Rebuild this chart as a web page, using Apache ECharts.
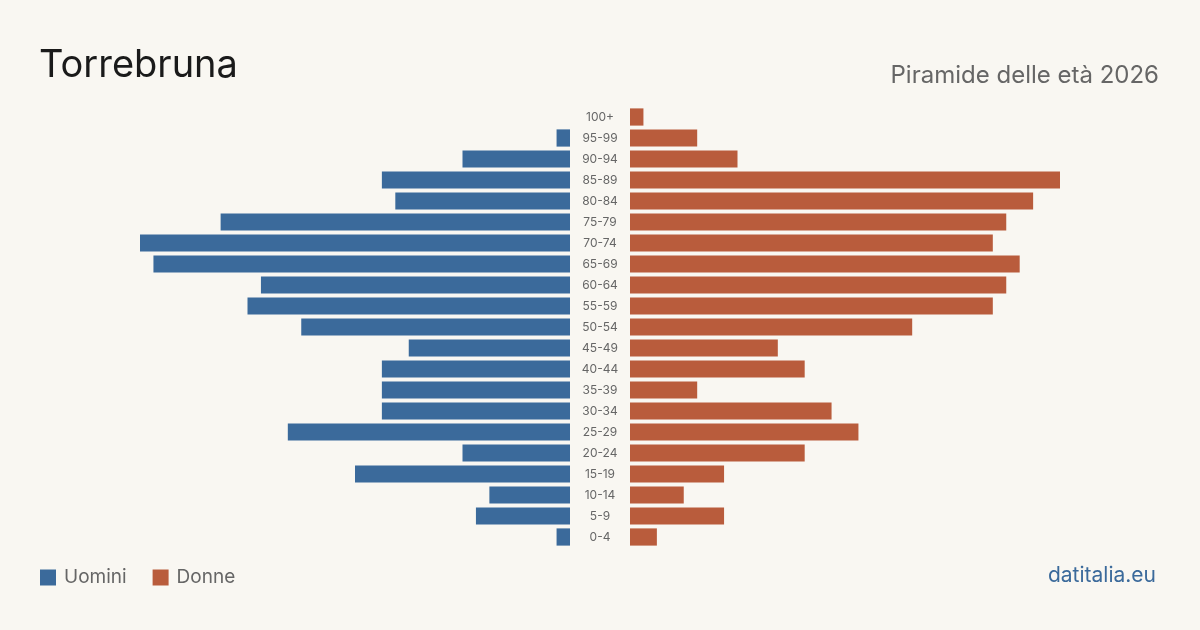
<!DOCTYPE html>
<html>
<head>
<meta charset="utf-8">
<script src="https://cdn.jsdelivr.net/npm/echarts@6/dist/echarts.min.js"></script>
<style>
  html, body { margin: 0; padding: 0; background: #f9f7f2; }
  #main { width: 1200px; height: 630px; }
</style>
</head>
<body>
<div id="main"></div>
<script>
const ageGroups = ['0-4', '5-9', '10-14', '15-19', '20-24', '25-29', '30-34', '35-39', '40-44', '45-49',
  '50-54', '55-59', '60-64', '65-69', '70-74', '75-79', '80-84', '85-89', '90-94', '95-99', '100+']
const men = [1, 7, 6, 16, 8, 21, 14, 14, 14, 12, 20, 24, 23, 31, 32, 26, 13, 14, 8, 1, 0]
const women = [2, 7, 4, 7, 13, 17, 15, 5, 13, 11, 21, 27, 28, 29, 27, 28, 30, 32, 8, 5, 1]

const BLUE = '#3b6a9b'
const ORANGE = '#b95c3c'
const FONT = 'Inter, "Noto Sans", sans-serif'

const chart = echarts.init(document.getElementById('main'))

chart.setOption({
  backgroundColor: '#f9f7f2',
  animation: false,
  textStyle: { fontFamily: FONT },
  title: [
    {
      text: 'Torrebruna',
      left: 39,
      top: 47,
      padding: 0,
      textStyle: { fontSize: 38, fontWeight: 'normal', color: '#1a1a1a', fontFamily: FONT },
    },
    {
      text: 'Piramide delle età 2026',
      right: 41,
      top: 64,
      padding: 0,
      textStyle: { fontSize: 24, fontWeight: 'normal', color: '#666', fontFamily: FONT },
    },
    {
      text: 'datitalia.eu',
      right: 44,
      top: 565,
      padding: 0,
      textStyle: { fontSize: 21, fontWeight: 'normal', color: '#3b6a9b', fontFamily: FONT },
    },
  ],
  legend: {
    left: 40,
    top: 568,
    padding: 0,
    icon: 'rect',
    itemWidth: 16,
    itemHeight: 16,
    itemGap: 26,
    textStyle: { fontSize: 19, color: '#666', fontFamily: FONT, padding: [0, 0, 0, 3] },
    data: ['Uomini', 'Donne'],
  },
  grid: [
    { left: 140, width: 430, top: 106.5, height: 441 },
    { left: 630, width: 430, top: 106.5, height: 441 },
  ],
  xAxis: [
    { gridIndex: 0, type: 'value', min: 0, max: 32, inverse: true, show: false },
    { gridIndex: 1, type: 'value', min: 0, max: 32, show: false },
  ],
  yAxis: [
    {
      gridIndex: 0, type: 'category', data: ageGroups,
      axisLine: { show: false }, axisTick: { show: false }, axisLabel: { show: false },
    },
    {
      gridIndex: 1, type: 'category', data: ageGroups,
      axisLine: { show: false }, axisTick: { show: false },
      axisLabel: { show: true, margin: 30, align: 'center', fontSize: 12, color: '#666', fontFamily: FONT },
    },
  ],
  series: [
    {
      name: 'Uomini', type: 'bar', xAxisIndex: 0, yAxisIndex: 0,
      data: men, barCategoryGap: '18%', itemStyle: { color: BLUE },
    },
    {
      name: 'Donne', type: 'bar', xAxisIndex: 1, yAxisIndex: 1,
      data: women, barCategoryGap: '18%', itemStyle: { color: ORANGE },
    },
  ],
})
</script>
</body>
</html>
